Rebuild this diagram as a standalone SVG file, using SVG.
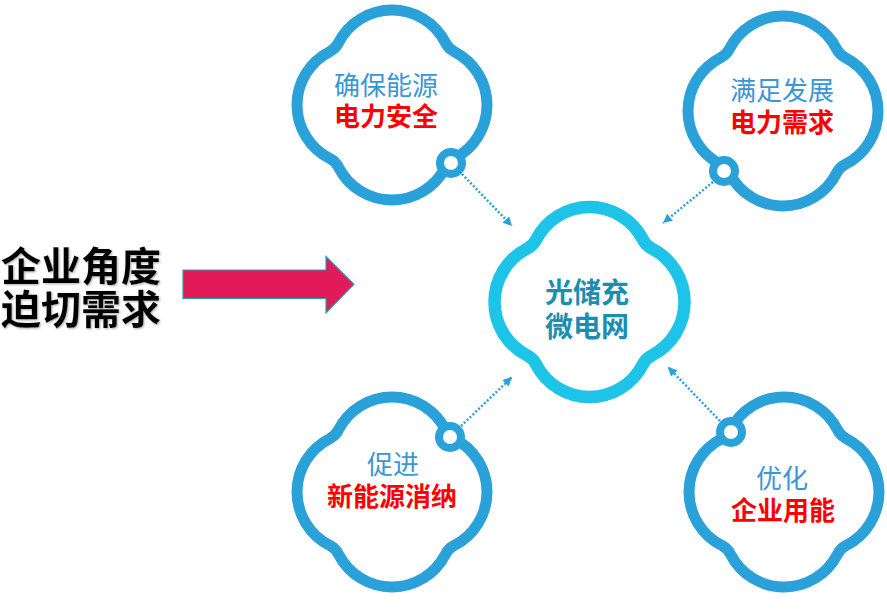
<svg xmlns="http://www.w3.org/2000/svg" xmlns:xlink="http://www.w3.org/1999/xlink" width="887" height="611" viewBox="0 0 887 611">
<style>
.cloud{fill:#fff;stroke:#2aa1d9;stroke-width:11}
.cloudc{fill:#fff;stroke:#1ec4e8;stroke-width:12.5}
.ring{fill:#fff;stroke:#2aa1d9;stroke-width:8}
.dot{fill:none;stroke:#2aa1d9;stroke-width:2.5;stroke-dasharray:2 2}
.t{font-family:"Noto Sans CJK SC","Noto Sans",sans-serif;font-size:26px;text-anchor:middle}
.b{fill:#3a96d4}
.r{fill:#ff0000;font-weight:bold}
.c{fill:#1a8fb2;font-weight:bold;font-size:28px}
.l{font-family:"Noto Sans CJK SC","Noto Sans",sans-serif;font-size:40px;font-weight:bold;fill:#000}
</style>
<defs>
<path id="cl" d="M -53.47 -62.22 A 60 60 0 0 1 53.47 -62.22 A 20 20 0 0 0 62.22 -53.47 A 60 60 0 0 1 62.22 53.47 A 20 20 0 0 0 53.47 62.22 A 60 60 0 0 1 -53.47 62.22 A 20 20 0 0 0 -62.22 53.47 A 60 60 0 0 1 -62.22 -53.47 A 20 20 0 0 0 -53.47 -62.22 Z"/>
<marker id="ah" viewBox="0 0 10 10" refX="10" refY="5" markerWidth="10" markerHeight="9" markerUnits="userSpaceOnUse" orient="auto">
<path d="M0,0 L10,5 L0,10 z" fill="#2aa1d9"/>
</marker>
<filter id="sh" x="-10%" y="-10%" width="120%" height="120%">
<feDropShadow dx="1" dy="1" stdDeviation="0.8" flood-color="#777" flood-opacity="0.6"/>
</filter>
</defs>

<g id="left-text">
<text class="l" x="1" y="281" filter="url(#sh)">企业角度</text>
<text class="l" x="1" y="324" filter="url(#sh)">迫切需求</text>
</g>

<g id="big-arrow">
<path d="M183,270 L326,270 L326,256.5 L354,284.3 L326,313 L326,298.5 L183,298.5 Z" fill="#e21a5a" stroke="#2a9fb5" stroke-width="1.2"/>
</g>

<g id="connectors">
<line class="dot" x1="462" y1="174" x2="512" y2="226" marker-end="url(#ah)"/>
<line class="dot" x1="713" y1="182" x2="663" y2="223" marker-end="url(#ah)"/>
<line class="dot" x1="461" y1="426" x2="512" y2="377" marker-end="url(#ah)"/>
<line class="dot" x1="720" y1="421" x2="668" y2="367" marker-end="url(#ah)"/>
</g>

<g id="node-center">
<use xlink:href="#cl" class="cloudc" transform="translate(589.5,302)"/>
<text class="t c" x="587" y="303">光储充</text>
<text class="t c" x="587" y="337">微电网</text>
</g>

<g id="node-tl">
<use xlink:href="#cl" class="cloud" transform="translate(392,105)"/>
<circle class="ring" cx="451" cy="163" r="11"/>
<text class="t b" x="386" y="95">确保能源</text>
<text class="t r" x="386" y="126">电力安全</text>
</g>

<g id="node-tr">
<use xlink:href="#cl" class="cloud" transform="translate(783,111)"/>
<circle class="ring" cx="724" cy="171" r="11"/>
<text class="t b" x="782" y="100">满足发展</text>
<text class="t r" x="782" y="132">电力需求</text>
</g>

<g id="node-bl">
<use xlink:href="#cl" class="cloud" transform="translate(392,492)"/>
<circle class="ring" cx="450" cy="437" r="11"/>
<text class="t b" x="393" y="474">促进</text>
<text class="t r" x="392" y="506">新能源消纳</text>
</g>

<g id="node-br">
<use xlink:href="#cl" class="cloud" transform="translate(784,492)"/>
<circle class="ring" cx="731" cy="432" r="11"/>
<text class="t b" x="782" y="488">优化</text>
<text class="t r" x="783" y="520">企业用能</text>
</g>
</svg>
